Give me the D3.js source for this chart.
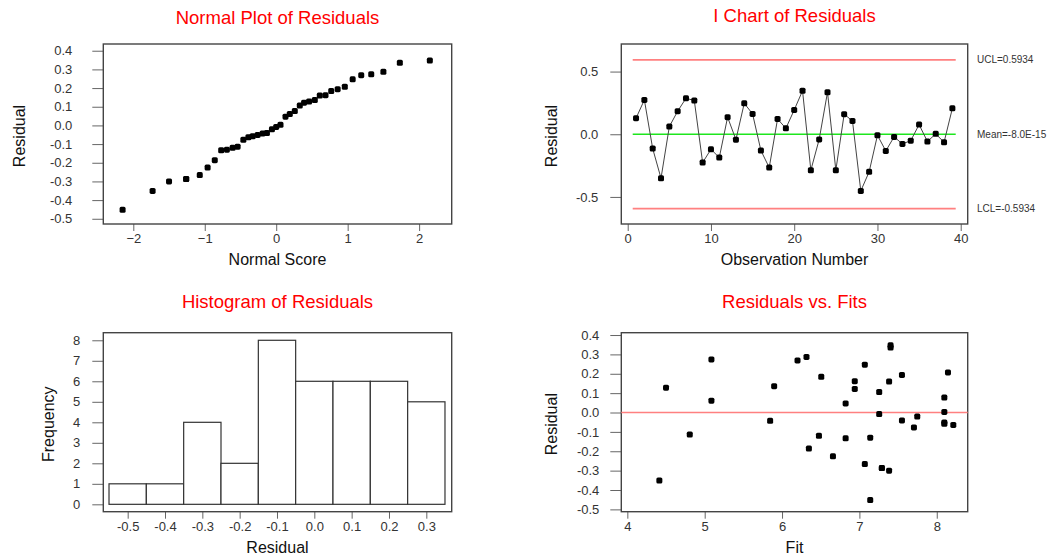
<!DOCTYPE html>
<head>
  <meta charset="utf-8">
  <script src="https://d3js.org/d3.v7.min.js"></script>
  <style>
    body { margin:0; background:#fff; }
    text { font-family: Arial, "Liberation Sans", sans-serif; }
  </style>
</head>

<body>
  <script>
    // residuals in observation order (I chart)
    var residuals = [0.128, 0.274, -0.114, -0.351, 0.061, 0.184, 0.287, 0.269, -0.226, -0.120,
                     -0.186, 0.136, -0.043, 0.247, 0.162, -0.130, -0.266, 0.122, 0.047, 0.194,
                     0.347, -0.287, -0.041, 0.335, -0.287, 0.160, 0.106, -0.452, -0.300, -0.008,
                     -0.133, -0.021, -0.077, -0.051, 0.077, -0.058, 0.003, -0.064, 0.207];
    // fitted values, same order
    var fits = [4.50, 5.087, 4.807, 4.414, 5.087, 6.507, 6.316, 6.20, 6.658, 6.477,
                6.347, 5.898, 5.846, 7.07, 6.94, 7.14, 7.07, 6.94, 6.822, 7.55,
                7.403, 7.29, 7.55, 7.403, 7.29, 7.384, 7.256, 7.14, 7.384, 7.256,
                6.822, 7.748, 7.705, 8.098, 8.098, 8.098, 8.098, 8.214, 8.145];
    // normal scores for the sorted residuals
    var normalScores = [-2.15, -1.73, -1.50, -1.26, -1.26, -1.07, -0.96, -0.86, -0.77, -0.69,
                        -0.61, -0.54, -0.46, -0.39, -0.33, -0.26, -0.19, -0.13, -0.06, 0.00,
                        0.06, 0.13, 0.19, 0.26, 0.33, 0.39, 0.46, 0.54, 0.61, 0.69,
                        0.77, 0.86, 0.96, 1.07, 1.19, 1.33, 1.50, 1.73, 2.15];
    var histMids = [-0.5, -0.4, -0.3, -0.2, -0.1, 0.0, 0.1, 0.2, 0.3];
    var histCounts = [1, 1, 4, 2, 8, 6, 6, 6, 5];
    var controlValues = [0.5934, 0, -0.5934];
    var controlLabels = ["UCL=0.5934", "Mean=-8.0E-15", "LCL=-0.5934"];

    var svg = d3.select("body").append("svg")
      .attr("width", 1055)
      .attr("height", 560);

    var fmt1 = function(d){ return d.toFixed(1); };

    function panel(o) {
      var g = svg.append("g");
      var x = d3.scaleLinear().domain(o.xDomain).range([o.left, o.right]);
      var y = d3.scaleLinear().domain(o.yDomain).range([o.bottom, o.top]);

      var xa = g.append("g")
        .attr("transform", "translate(0," + o.bottom + ")")
        .call(d3.axisBottom(x).tickValues(o.xTicks).tickFormat(o.xFmt)
          .tickSize(7).tickSizeOuter(0).tickPadding(3));
      var ya = g.append("g")
        .attr("transform", "translate(" + o.left + ",0)")
        .call(d3.axisLeft(y).tickValues(o.yTicks).tickFormat(o.yFmt)
          .tickSize(11).tickSizeOuter(0).tickPadding(o.yPad));
      [xa, ya].forEach(function(a){
        a.select(".domain").remove();
        a.selectAll("line").attr("stroke", "#666");
        a.selectAll("text").attr("fill", "#333").style("font-size", "13px")
          .style("font-family", "Arial, 'Liberation Sans', sans-serif");
      });

      g.append("rect")
        .attr("x", o.left).attr("y", o.top)
        .attr("width", o.right - o.left).attr("height", o.bottom - o.top)
        .attr("fill", "none").attr("stroke", "#444").attr("stroke-width", 1.4);

      var cx = (o.left + o.right) / 2;
      g.append("text").attr("x", cx).attr("y", o.titleY)
        .attr("text-anchor", "middle").attr("fill", "#ff0000")
        .style("font-size", "18.5px").text(o.title);
      g.append("text").attr("x", cx).attr("y", o.bottom + 41)
        .attr("text-anchor", "middle").attr("fill", "#111")
        .style("font-size", "16px").text(o.xLabel);
      g.append("text")
        .attr("transform", "translate(" + o.yLabelX + "," + ((o.top + o.bottom) / 2 + 2) + ") rotate(-90)")
        .attr("text-anchor", "middle").attr("fill", "#111")
        .style("font-size", "16px").text(o.yLabel);

      return { g: g, x: x, y: y };
    }

    function marks(p, xs, ys) {
      p.g.append("g").selectAll("rect").data(xs).enter().append("rect")
        .attr("x", function(d){ return p.x(d) - 3; })
        .attr("y", function(d, i){ return p.y(ys[i]) - 3; })
        .attr("width", 6).attr("height", 6).attr("rx", 1.6)
        .attr("fill", "#000");
    }

    // ---------- Normal plot ----------
    var np = panel({
      left: 103.3, right: 451.7, top: 44, bottom: 224,
      xDomain: [-2.42, 2.456], yDomain: [-0.528, 0.436],
      xTicks: [-2, -1, 0, 1, 2], xFmt: d3.format("d"),
      yTicks: [-0.5, -0.4, -0.3, -0.2, -0.1, 0, 0.1, 0.2, 0.3, 0.4], yFmt: fmt1, yPad: 20,
      title: "Normal Plot of Residuals", titleY: 24,
      xLabel: "Normal Score", yLabel: "Residual", yLabelX: 25
    });
    var sorted = residuals.slice().sort(d3.ascending);
    marks(np, normalScores, sorted);

    // ---------- I chart ----------
    var ic = panel({
      left: 621.3, right: 967.7, top: 44, bottom: 224,
      xDomain: [-0.77, 40.84], yDomain: [-0.716, 0.72],
      xTicks: [0, 10, 20, 30, 40], xFmt: d3.format("d"),
      yTicks: [-0.5, 0, 0.5], yFmt: fmt1, yPad: 12,
      title: "I Chart of Residuals", titleY: 22,
      xLabel: "Observation Number", yLabel: "Residual", yLabelX: 556.7
    });
    var obs = residuals.map(function(d, i){ return i + 1; });
    ic.g.selectAll(".ctl").data(controlValues).enter().append("line")
      .attr("x1", ic.x(0.6)).attr("x2", ic.x(39.4))
      .attr("y1", function(d){ return ic.y(d); })
      .attr("y2", function(d){ return ic.y(d); })
      .attr("stroke", function(d){ return d === 0 ? "#1ee61e" : "#ff8080"; })
      .attr("stroke-width", function(d){ return d === 0 ? 1.3 : 1.6; });
    ic.g.append("path")
      .datum(residuals)
      .attr("fill", "none").attr("stroke", "#444").attr("stroke-width", 1)
      .attr("d", d3.line()
        .x(function(d, i){ return ic.x(obs[i]); })
        .y(function(d){ return ic.y(d); }));
    marks(ic, obs, residuals);
    ic.g.selectAll(".clab").data(controlLabels).enter().append("text")
      .attr("x", 977)
      .attr("y", function(d, i){ return ic.y(controlValues[i]); })
      .attr("dy", "0.35em").attr("fill", "#333")
      .style("font-size", "10px").text(function(d){ return d; });

    // ---------- Histogram ----------
    var hp = panel({
      left: 103.3, right: 451.7, top: 332.7, bottom: 511.7,
      xDomain: [-0.5653, 0.368], yDomain: [-0.36, 8.37],
      xTicks: histMids, xFmt: fmt1,
      yTicks: [0, 1, 2, 3, 4, 5, 6, 7, 8], yFmt: d3.format("d"), yPad: 12,
      title: "Histogram of Residuals", titleY: 308,
      xLabel: "Residual", yLabel: "Frequency", yLabelX: 53.5
    });
    hp.g.append("g").selectAll("rect").data(histMids).enter().append("rect")
      .attr("x", function(d){ return hp.x(d - 0.05); })
      .attr("width", function(d){ return hp.x(d + 0.05) - hp.x(d - 0.05); })
      .attr("y", function(d, i){ return hp.y(histCounts[i]); })
      .attr("height", function(d, i){ return hp.y(0) - hp.y(histCounts[i]); })
      .attr("fill", "#fff").attr("stroke", "#333").attr("stroke-width", 1.2);

    // ---------- Residuals vs fits ----------
    var fp = panel({
      left: 621.3, right: 967.7, top: 332.7, bottom: 511.7,
      xDomain: [3.922, 8.40], yDomain: [-0.512, 0.412],
      xTicks: [4, 5, 6, 7, 8], xFmt: d3.format("d"),
      yTicks: [-0.5, -0.4, -0.3, -0.2, -0.1, 0, 0.1, 0.2, 0.3, 0.4], yFmt: fmt1, yPad: 11,
      title: "Residuals vs. Fits", titleY: 308,
      xLabel: "Fit", yLabel: "Residual", yLabelX: 556.7
    });
    fp.g.append("line")
      .attr("x1", 621.3).attr("x2", 967.7)
      .attr("y1", fp.y(0)).attr("y2", fp.y(0))
      .attr("stroke", "#ff8080").attr("stroke-width", 1.6);
    marks(fp, fits, residuals);
  </script>
</body>
